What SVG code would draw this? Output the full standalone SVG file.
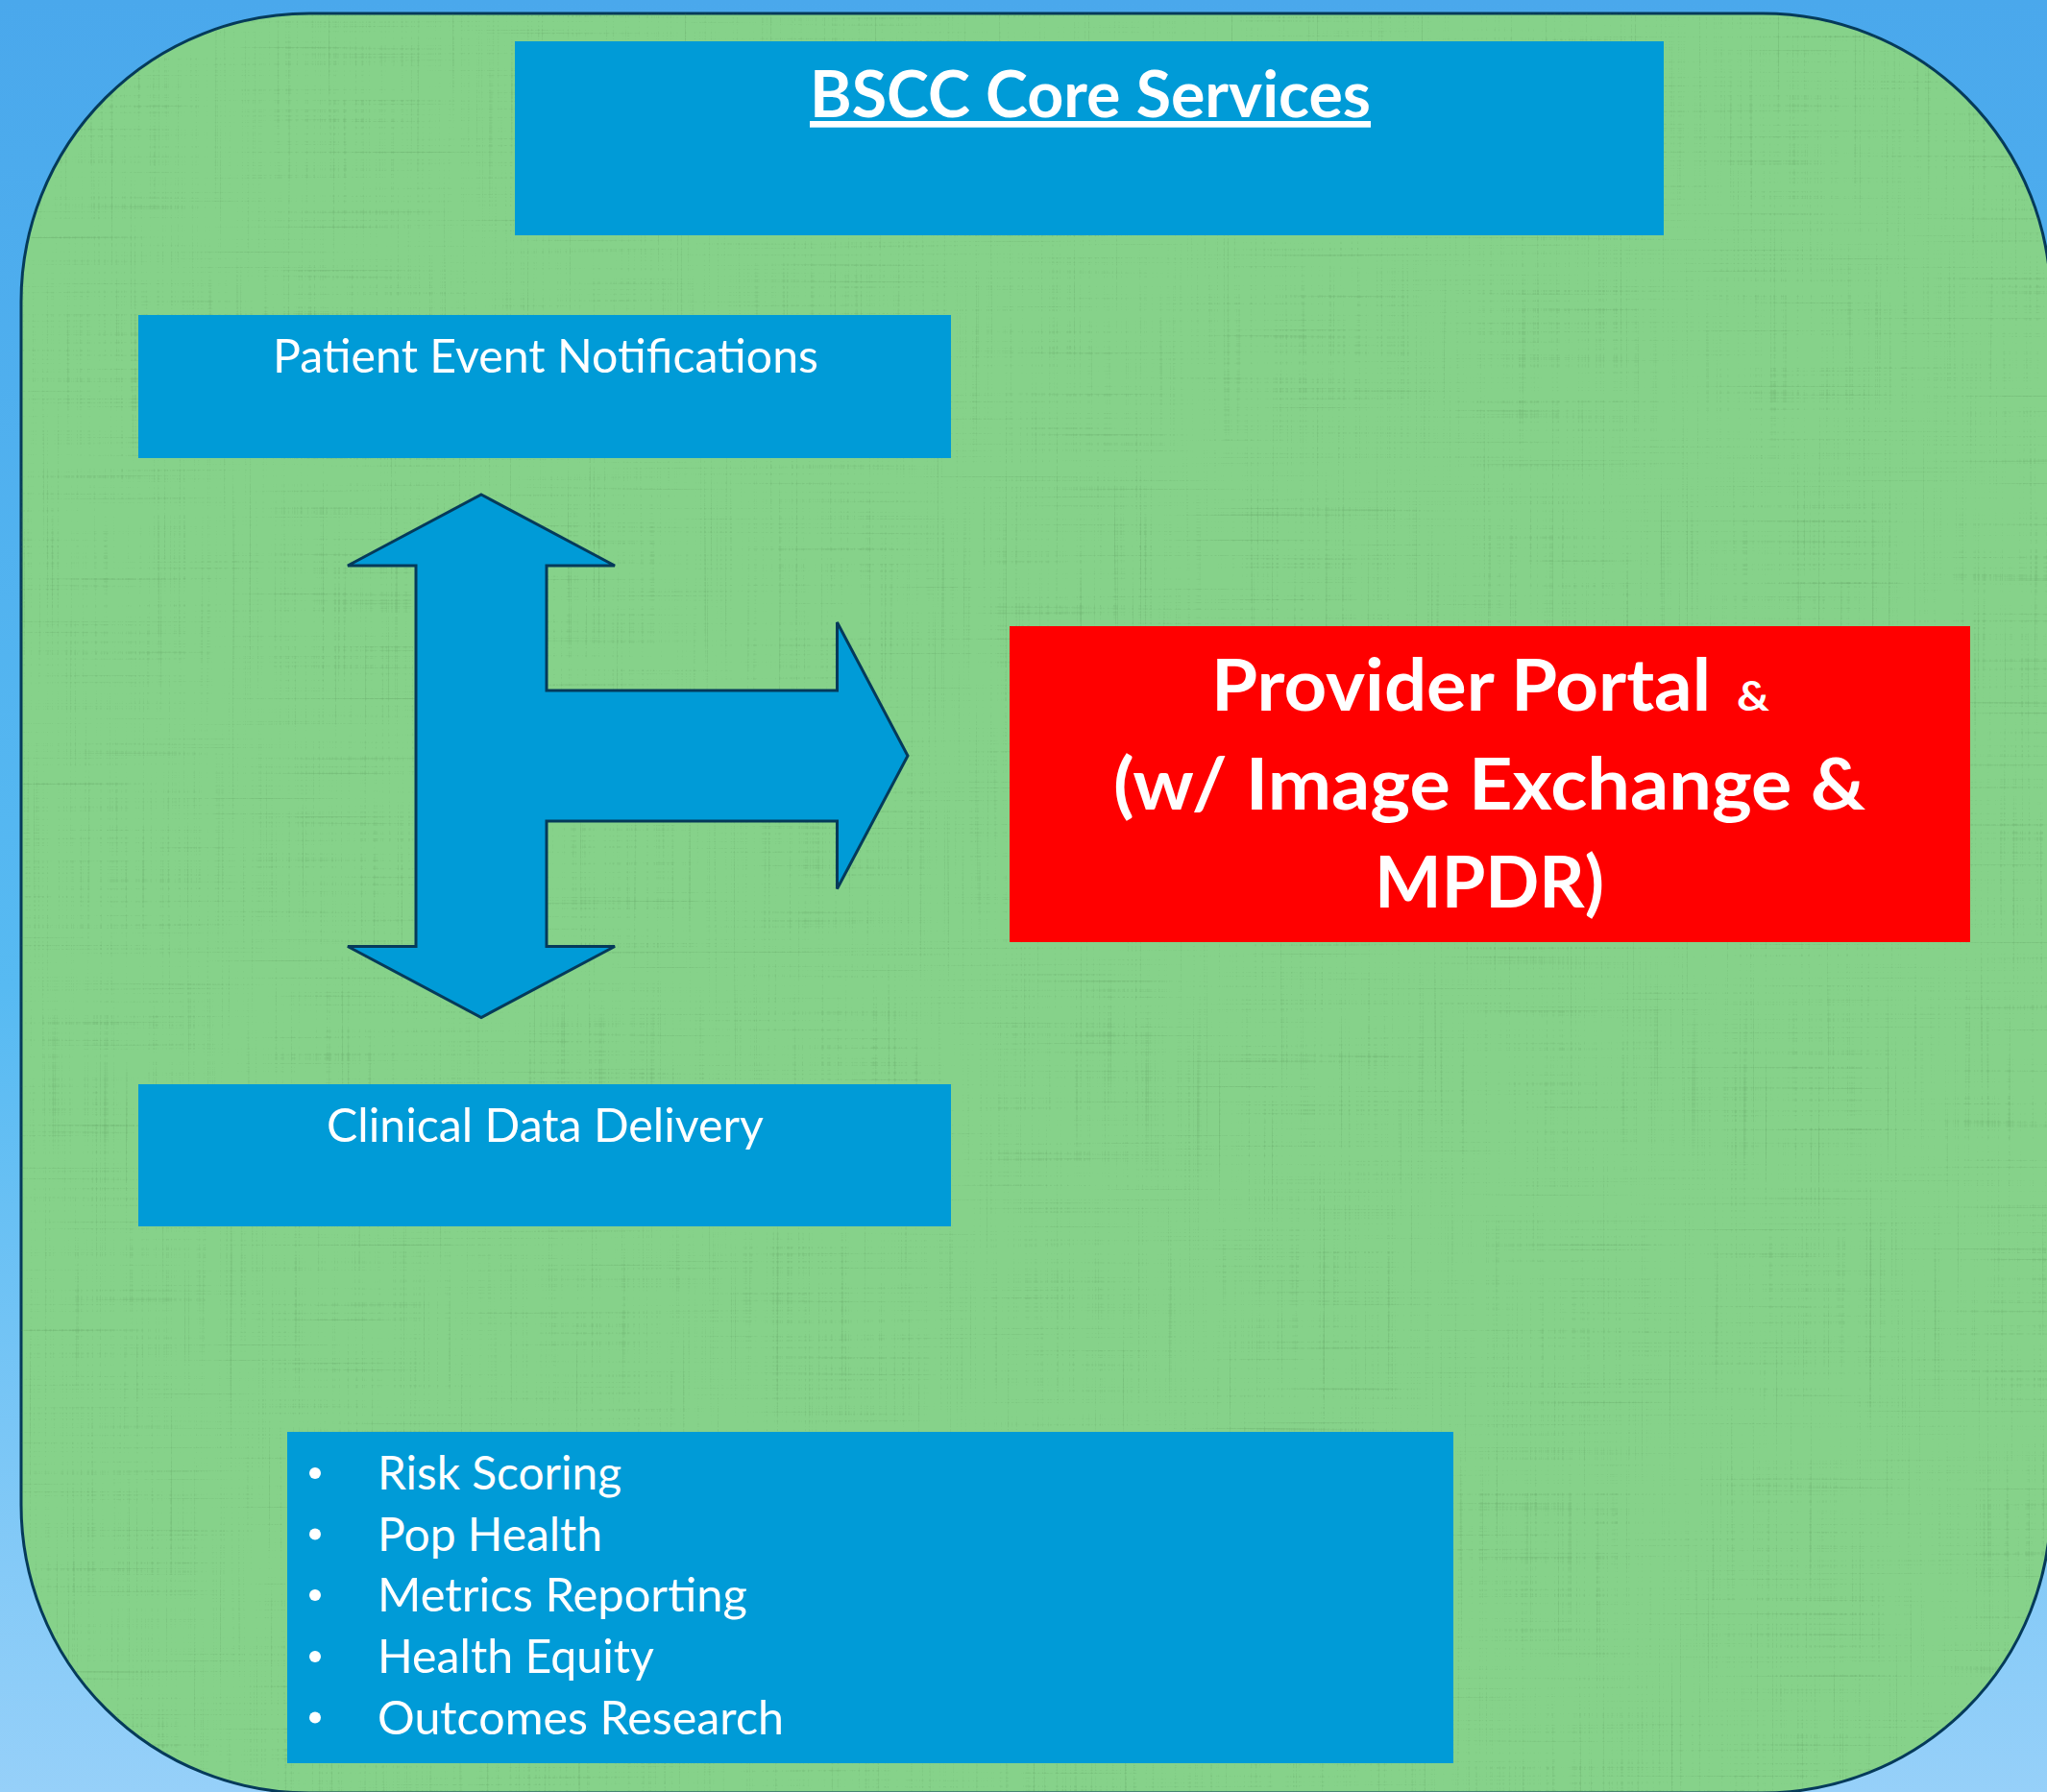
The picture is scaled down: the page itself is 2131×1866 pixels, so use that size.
<svg xmlns="http://www.w3.org/2000/svg" width="2131" height="1866" viewBox="0 0 2131 1866">
  <defs>
    <linearGradient id="bg" x1="0" y1="0" x2="0" y2="1">
      <stop offset="0" stop-color="#4aa8ec"/>
      <stop offset="0.55" stop-color="#57baf2"/>
      <stop offset="1" stop-color="#96d0f9"/>
    </linearGradient>
    <filter id="linen" x="0" y="0" width="100%" height="100%" color-interpolation-filters="sRGB">
      <feTurbulence type="fractalNoise" baseFrequency="0.45 0.004" numOctaves="2" seed="3" result="v"/>
      <feTurbulence type="fractalNoise" baseFrequency="0.004 0.45" numOctaves="2" seed="9" result="h"/>
      <feBlend in="v" in2="h" mode="multiply" result="m"/>
      <feColorMatrix in="m" type="matrix" values="0 0 0 0 0.30  0 0 0 0 0.52  0 0 0 0 0.30  -1.6 0 0 0 0.55" result="c"/>
      <feComposite in="c" in2="SourceGraphic" operator="in"/>
    </filter>
    <style>
      .box { fill: #009bd7; }
      .red { fill: #ff0000; }
      .outline { stroke: #053a5a; stroke-width: 3; }
      .t { font-family: Lato, "Open Sans", "Liberation Sans", sans-serif; fill: #ffffff; }
      .reg { font-size: 48px; font-weight: 400; }
      .bold { font-weight: 700; }
      .dot { fill: #ffffff; }
    </style>
  </defs>

  <g id="background">
    <rect x="0" y="0" width="2131" height="1866" fill="url(#bg)"/>
  </g>

  <g id="container">
    <rect x="22" y="14" width="2113" height="1853" rx="300" ry="300" fill="#86d28a" class="outline"/>
    <rect x="22" y="14" width="2113" height="1853" rx="300" ry="300" fill="#86d28a" filter="url(#linen)" opacity="0.8"/>
  </g>

  <g id="title">
    <rect class="box" x="536" y="43" width="1196" height="202"/>
    <text class="t bold" x="843" y="122" font-size="67" textLength="584" lengthAdjust="spacingAndGlyphs" text-decoration="underline">BSCC Core Services</text>
  </g>

  <g id="patient-event-notifications">
    <rect class="box" x="144" y="328" width="846" height="149"/>
    <text class="t reg" x="284" y="388" textLength="568" lengthAdjust="spacingAndGlyphs">Patient Event Notifications</text>
  </g>

  <g id="clinical-data-delivery">
    <rect class="box" x="144" y="1129" width="846" height="148"/>
    <text class="t reg" x="340" y="1189" textLength="455" lengthAdjust="spacingAndGlyphs">Clinical Data Delivery</text>
  </g>

  <g id="connectors">
    <polygon class="box outline" stroke-linejoin="miter" points="501,515 640,589 569,589 569,719 871.5,719 871.5,648 945,787 871.5,925.5 871.5,855 569,855 569,985.5 640,985.5 501,1059.5 362,985.5 433,985.5 433,589 362,589"/>
  </g>

  <g id="provider-portal">
    <rect class="red" x="1051" y="652" width="1000" height="329"/>
    <text class="t bold" font-size="74" y="740"><tspan x="1261" textLength="520" lengthAdjust="spacingAndGlyphs">Provider Portal</tspan><tspan x="1808" font-size="42" textLength="34" lengthAdjust="spacingAndGlyphs">&amp;</tspan></text>
    <text class="t bold" font-size="74" x="1159" y="843" textLength="783" lengthAdjust="spacingAndGlyphs">(w/ Image Exchange &amp;</text>
    <text class="t bold" font-size="74" x="1431" y="945" textLength="239" lengthAdjust="spacingAndGlyphs">MPDR)</text>
  </g>

  <g id="analytics">
    <rect class="box" x="299" y="1491" width="1214" height="345"/>
    <circle class="dot" cx="328" cy="1534" r="6"/>
    <circle class="dot" cx="328" cy="1597.5" r="6"/>
    <circle class="dot" cx="328" cy="1661" r="6"/>
    <circle class="dot" cx="328" cy="1725" r="6"/>
    <circle class="dot" cx="328" cy="1788.5" r="6"/>
    <text class="t reg" x="393" y="1551" textLength="254" lengthAdjust="spacingAndGlyphs">Risk Scoring</text>
    <text class="t reg" x="393" y="1614.5" textLength="234" lengthAdjust="spacingAndGlyphs">Pop Health</text>
    <text class="t reg" x="393" y="1678" textLength="385" lengthAdjust="spacingAndGlyphs">Metrics Reporting</text>
    <text class="t reg" x="393" y="1742" textLength="288" lengthAdjust="spacingAndGlyphs">Health Equity</text>
    <text class="t reg" x="393" y="1805.5" textLength="423" lengthAdjust="spacingAndGlyphs">Outcomes Research</text>
  </g>
</svg>
